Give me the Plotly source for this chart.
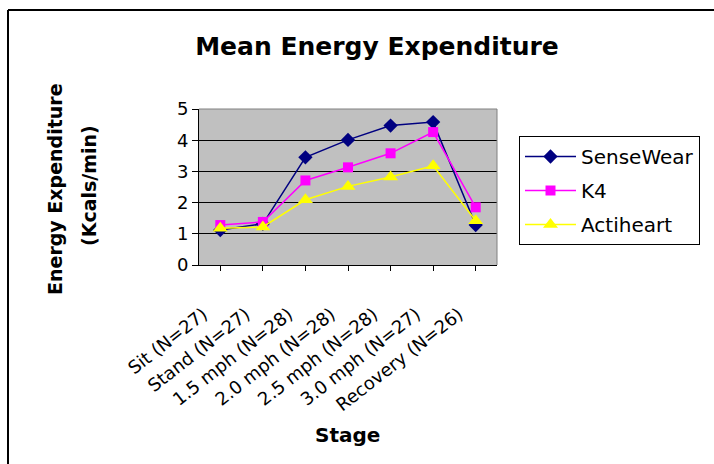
import plotly.graph_objects as go

stages = ["Sit (N=27)", "Stand (N=27)", "1.5 mph (N=28)", "2.0 mph (N=28)",
          "2.5 mph (N=28)", "3.0 mph (N=27)", "Recovery (N=26)"]
sensewear = [1.12, 1.32, 3.45, 4.01, 4.47, 4.58, 1.28]
k4 = [1.28, 1.38, 2.71, 3.13, 3.58, 4.26, 1.85]
actiheart = [1.18, 1.22, 2.09, 2.52, 2.82, 3.18, 1.42]

series = [
    ("SenseWear", sensewear, "#000080", "diamond", 11),
    ("K4", k4, "#FF00FF", "square", 10),
    ("Actiheart", actiheart, "#FFFF00", "triangle-up", 13),
]

FONT = "DejaVu Sans"

fig = go.Figure()
for i, (name, vals, col, sym, sz) in enumerate(series):
    fig.add_trace(go.Scatter(
        x=list(range(len(stages))), y=vals, name=name, mode="lines+markers",
        line=dict(color=col, width=1.5),
        marker=dict(symbol=sym, size=sz, color=col, line=dict(width=0)),
        legendgroup="g%d" % i,
    ))

L, R, T, B = 199, 714 - 497, 109, 464 - 265
W, H = 714, 464
pw, ph = W - L - R, H - T - B


def px(x):
    return (x - L) / pw


def py(y):
    return (H - B - y) / ph


fig.update_layout(
    width=W, height=H,
    margin=dict(l=L, r=R, t=T, b=B, autoexpand=False),
    paper_bgcolor="white", plot_bgcolor="#C0C0C0",
    font=dict(family=FONT, color="black"),
    title=dict(text="<b>Mean Energy Expenditure</b>", x=377 / W, xanchor="center",
               y=1 - 46 / H, yanchor="middle", font=dict(size=25)),
    showlegend=True,
    legend=dict(x=px(519), xanchor="left", y=py(136), yanchor="top",
                bordercolor="black", borderwidth=1, bgcolor="white",
                font=dict(size=20), tracegroupgap=5, itemwidth=51),
    xaxis=dict(
        range=[-0.5, 6.5], tickmode="array", tickvals=list(range(len(stages))),
        ticktext=stages, tickangle=-38, tickson="boundaries", ticks="outside",
        ticklen=5, tickcolor="black", showgrid=False, showline=True,
        linecolor="black", linewidth=1, zeroline=False,
        tickfont=dict(size=18), ticklabelstandoff=26, ticklabelshift=-17,
    ),
    yaxis=dict(
        range=[0, 5], dtick=1, ticks="outside", ticklen=6, tickcolor="black",
        showgrid=True, gridcolor="black", gridwidth=1, showline=True,
        linecolor="black", linewidth=1, zeroline=False, tickfont=dict(size=18),
    ),
    annotations=[
        dict(text="<b>Energy Expenditure</b>", xref="paper", yref="paper",
             x=px(55), y=py(189), textangle=-90, showarrow=False,
             xanchor="center", yanchor="middle", font=dict(size=19)),
        dict(text="<b>(Kcals/min)</b>", xref="paper", yref="paper",
             x=px(89), y=py(186), textangle=-90, showarrow=False,
             xanchor="center", yanchor="middle", font=dict(size=19)),
        dict(text="<b>Stage</b>", xref="paper", yref="paper",
             x=px(347), y=py(435), showarrow=False,
             xanchor="center", yanchor="middle", font=dict(size=20)),
    ],
    shapes=[
        dict(type="line", xref="paper", yref="paper", x0=1, x1=1, y0=0, y1=1,
             line=dict(color="#808080", width=1)),
        dict(type="line", xref="paper", yref="paper", x0=0, x1=1, y0=1, y1=1,
             line=dict(color="#808080", width=1)),
        dict(type="line", xref="paper", yref="paper", x0=px(8), x1=px(8),
             y0=-5, y1=py(10), line=dict(color="black", width=2)),
        dict(type="line", xref="paper", yref="paper", x0=px(8), x1=5,
             y0=py(10), y1=py(10), line=dict(color="black", width=2)),
    ],
)

fig.write_html("out.html", config={"displayModeBar": False},
               post_script="document.body.style.margin='0px';")
